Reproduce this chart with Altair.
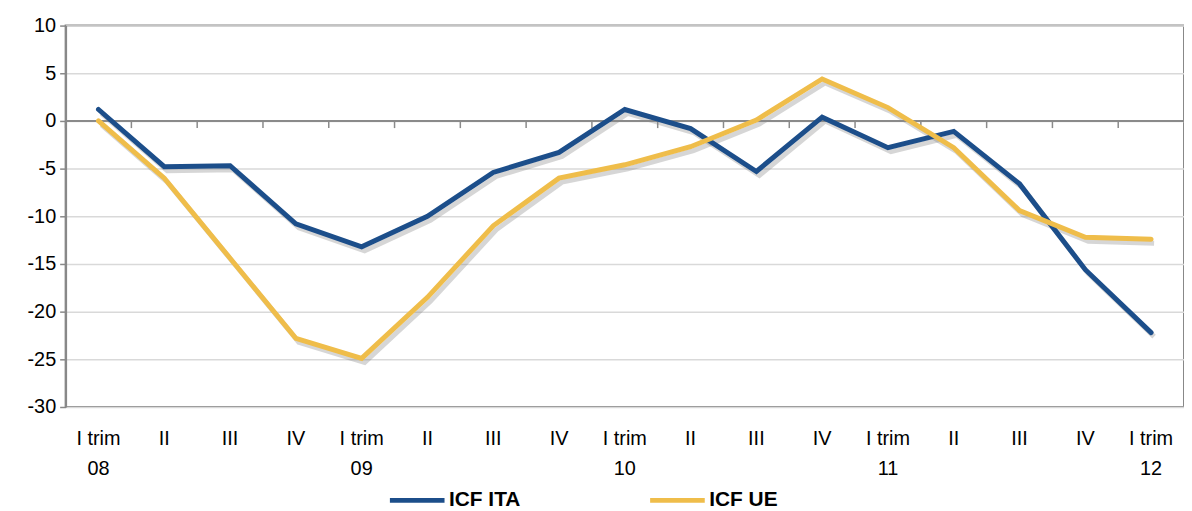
import altair as alt
import pandas as pd

tick_labels = ["I trim|08", "II", "III", "IV", "I trim|09", "II", "III", "IV",
               "I trim|10", "II", "III", "IV", "I trim|11", "II", "III", "IV", "I trim|12"]
icf_ita = [1.2, -4.8, -4.7, -10.8, -13.2, -10.0, -5.4, -3.3, 1.2, -0.8, -5.3, 0.4,
           -2.8, -1.1, -6.6, -15.6, -22.2]
icf_ue = [0.0, -6.0, -14.4, -22.8, -24.9, -18.5, -11.0, -6.0, -4.6, -2.7, 0.1, 4.4,
          1.4, -2.8, -9.4, -12.2, -12.4]
y_ticks = [-30, -25, -20, -15, -10, -5, 0, 5, 10]
series_names = ["ICF ITA", "ICF UE"]
series_colors = ["#1C4E8A", "#EFBD4A"]

idx = list(range(len(tick_labels)))
rows = []
for i in idx:
    rows.append({"i": i, "serie": series_names[0], "v": icf_ita[i]})
for i in idx:
    rows.append({"i": i, "serie": series_names[1], "v": icf_ue[i]})
df = pd.DataFrame(rows)
cats = pd.DataFrame({"i": idx})

label_js = "[" + ",".join("'" + t + "'" for t in tick_labels) + "]"
label_expr = "split(" + label_js + "[datum.value], '|')"

W, H = 1126, 384
xscale = alt.Scale(paddingInner=0, paddingOuter=0)
yscale = alt.Scale(domain=[-30, 10])

x_enc = alt.X("i:O", scale=xscale, sort=idx,
              axis=alt.Axis(title=None, labelExpr=label_expr, labelAngle=0,
                            labelFontSize=20, labelLineHeight=30, labelPadding=22,
                            labelBaseline="top", labelColor="#000000",
                            ticks=False, domain=False, grid=False,
                            labelFont="Liberation Sans"))
y_enc = alt.Y("v:Q", scale=yscale,
              axis=alt.Axis(title=None, values=y_ticks, labelExpr="datum.value + ''",
                            labelFontSize=20, labelColor="#000000", labelFont="Liberation Sans",
                            tickColor="#888888", tickSize=6, tickWidth=1.5,
                            domainColor="#888888", domainWidth=2, labelPadding=4,
                            gridColor="#D9D9D9", gridWidth=1.5))

base = alt.Chart(df)

shadow = base.mark_line(strokeWidth=5, color="#777777", opacity=0.3,
                        xOffset=3, yOffset=4).encode(
    x=x_enc, y=y_enc, detail="serie:N")

zero_rule = alt.Chart(cats).mark_rule(color="#8A8A8A", strokeWidth=1.5).encode(
    y=alt.datum(0, scale=yscale, type="quantitative"))

zero_ticks = alt.Chart(cats).mark_rule(color="#8A8A8A", strokeWidth=1.5).encode(
    x=alt.X("i:O", scale=xscale, sort=idx, bandPosition=0),
    y=alt.datum(0),
    y2=alt.datum(-0.75))

lines = base.mark_line(strokeWidth=5, strokeCap="round", strokeJoin="miter").encode(
    x=x_enc, y=y_enc,
    color=alt.Color("serie:N",
                    scale=alt.Scale(domain=series_names, range=series_colors),
                    legend=alt.Legend(title=None, orient="none", direction="horizontal",
                                      legendX=324, legendY=448,
                                      symbolType="stroke", symbolSize=3025,
                                      symbolStrokeWidth=5, labelFontSize=21,
                                      labelFontWeight="bold", labelFont="Liberation Sans",
                                      labelColor="#000000", columnPadding=120,
                                      labelOffset=2)),
    order="i:O")

chart = alt.layer(shadow, zero_rule, zero_ticks, lines).properties(
    width=W, height=H,
    autosize=alt.AutoSizeParams(type="none"),
    padding={"left": 58, "top": 16, "right": 0, "bottom": 103},
).configure_view(stroke="#888888", strokeWidth=2)

chart.save("out.html", embed_options={"renderer": "svg", "actions": False})
